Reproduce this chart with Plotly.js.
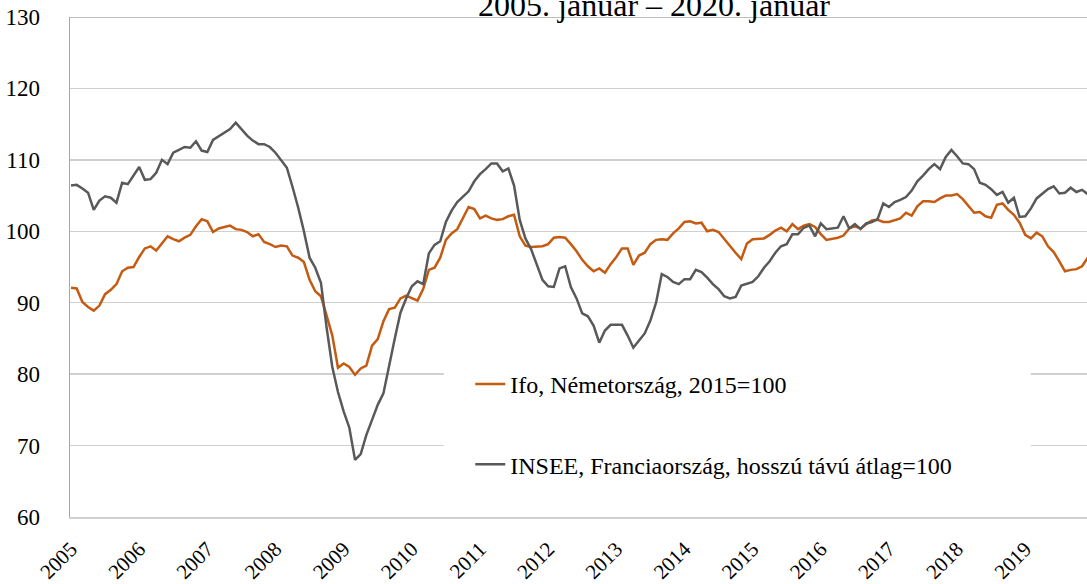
<!DOCTYPE html>
<html>
<head>
<meta charset="utf-8">
<script src="https://cdn.plot.ly/plotly-3.0.1.min.js"></script>
<style>
  html, body { margin: 0; padding: 0; background: #ffffff; }
  #chart { width: 1087px; height: 584px; }
</style>
</head>
<body>
<div id="chart"></div>
<script>
// Monthly values, 2005. január – 2020. január (181 months)
const ifoGermany = [
  92.1, 92.0, 90.1, 89.4, 88.9, 89.6, 91.2, 91.8, 92.6, 94.4, 94.9, 95.0,
  96.4, 97.6, 97.9, 97.3, 98.3, 99.3, 98.9, 98.6, 99.1, 99.5, 100.7, 101.7,
  101.4, 99.9, 100.4, 100.6, 100.8, 100.3, 100.2, 99.9, 99.3, 99.6, 98.5, 98.2,
  97.8, 98.0, 97.9, 96.6, 96.3, 95.7, 93.2, 91.6, 90.9, 88.2, 85.4, 80.9,
  81.5, 81.0, 79.9, 80.8, 81.2, 84.0, 84.9, 87.4, 89.1, 89.3, 90.6, 91.0,
  90.7, 90.3, 91.9, 94.6, 94.9, 96.3, 98.8, 99.7, 100.3, 101.9, 103.4, 103.1,
  101.8, 102.2, 101.8, 101.6, 101.7, 102.1, 102.3, 99.3, 98.0, 97.8, 97.9, 97.9,
  98.2, 99.1, 99.2, 99.1, 98.2, 97.2, 96.0, 95.1, 94.4, 94.8, 94.2, 95.4,
  96.4, 97.6, 97.6, 95.3, 96.6, 97.0, 98.2, 98.8, 98.9, 98.8, 99.7, 100.4,
  101.3, 101.4, 101.1, 101.2, 100.0, 100.2, 99.9, 98.9, 98.0, 97.0, 96.1, 98.3,
  98.9, 98.9, 99.0, 99.5, 100.1, 100.5, 100.0, 101.0, 100.3, 100.8, 101.0, 100.6,
  99.6, 98.8, 98.9, 99.1, 99.4, 100.4, 100.7, 100.4, 101.0, 101.5, 101.6, 101.3,
  101.3, 101.5, 101.8, 102.6, 102.2, 103.5, 104.2, 104.2, 104.1, 104.6, 105.0, 105.0,
  105.2, 104.5, 103.6, 102.6, 102.7, 102.1, 101.9, 103.7, 103.9, 103.0, 102.3, 101.2,
  99.5, 99.0, 99.8, 99.3, 97.9, 97.1, 95.8, 94.4, 94.6, 94.7, 95.1, 96.3,
  96.0
];
const inseeFrance = [
  106.4, 106.5, 106.0, 105.4, 103.0, 104.3, 104.9, 104.7, 104.0, 106.8, 106.6, 107.9,
  109.0, 107.2, 107.3, 108.2, 110.0, 109.4, 111.0, 111.4, 111.8, 111.7, 112.6, 111.3,
  111.1, 112.8, 113.3, 113.9, 114.3, 115.2, 114.3, 113.4, 112.7, 112.2, 112.2, 111.8,
  111.0, 110.0, 108.9, 106.2, 103.3, 100.0, 96.3, 94.9, 92.8, 86.5, 81.0, 77.5,
  74.8, 72.5, 68.0, 68.8, 71.5, 73.6, 75.7, 77.3, 81.3, 85.0, 88.6, 90.6,
  92.3, 93.0, 92.6, 96.9, 98.1, 98.6, 101.3, 102.9, 104.1, 104.9, 105.6, 107.0,
  108.0, 108.7, 109.5, 109.5, 108.4, 108.8, 106.4, 101.6, 99.0, 97.5, 95.3, 93.2,
  92.3, 92.2, 94.8, 95.1, 92.2, 90.6, 88.5, 88.1, 86.8, 84.4, 86.1, 86.9,
  86.9, 86.9, 85.4, 83.7, 84.7, 85.7, 87.5, 90.0, 94.0, 93.6, 92.9, 92.6,
  93.3, 93.3, 94.6, 94.3, 93.5, 92.6, 91.9, 90.9, 90.6, 90.8, 92.4, 92.6,
  92.9, 93.7, 94.9, 95.8, 97.0, 97.9, 98.2, 99.6, 99.6, 100.5, 100.8, 99.3,
  101.1, 100.3, 100.4, 100.5, 102.1, 100.4, 101.0, 100.3, 101.1, 101.3, 101.7, 103.9,
  103.4, 104.1, 104.4, 104.8, 105.7, 107.0, 107.8, 108.7, 109.4, 108.7, 110.4, 111.4,
  110.5, 109.5, 109.4, 108.7, 106.8, 106.5, 105.9, 105.1, 105.5, 104.0, 104.7, 102.0,
  102.1, 103.2, 104.6, 105.3, 105.9, 106.3, 105.3, 105.4, 106.1, 105.5, 105.8, 105.2,
  104.9
];
const yearLabels = ['2005','2006','2007','2008','2009','2010','2011','2012',
                    '2013','2014','2015','2016','2017','2018','2019'];
const seriesNames = ['Ifo, Németország, 2015=100',
                     'INSEE, Franciaország, hosszú távú átlag=100'];
const chartTitle = '2005. január – 2020. január';

const monthIndex = ifoGermany.map((_, i) => i);
const yearTickVals = yearLabels.map((_, i) => i * 12);

const FONT = 'Liberation Serif, Times New Roman, serif';

const traces = [
  {
    x: monthIndex, y: ifoGermany, type: 'scatter', mode: 'lines',
    name: seriesNames[0], legendgroup: 'a',
    line: { color: '#C55A11', width: 2.5 }
  },
  {
    x: monthIndex, y: inseeFrance, type: 'scatter', mode: 'lines',
    name: seriesNames[1], legendgroup: 'b',
    line: { color: '#595959', width: 2.5 }
  }
];

const layout = {
  width: 1087, height: 584,
  margin: { l: 70, r: 0, t: 17, b: 67, pad: 0 },
  paper_bgcolor: '#ffffff', plot_bgcolor: '#ffffff',
  font: { family: FONT, size: 23, color: '#000000' },
  title: {
    text: chartTitle,
    font: { family: FONT, size: 32, color: '#000000' },
    xref: 'container', x: 0.6017, xanchor: 'center',
    yref: 'container', y: 0.972, yanchor: 'bottom'
  },
  showlegend: true,
  legend: {
    x: 0.369, xanchor: 'left', y: 0.31, yanchor: 'top',
    bgcolor: '#ffffff', borderwidth: 0,
    font: { family: FONT, size: 24, color: '#000000' },
    traceorder: 'grouped', tracegroupgap: 46,
    indentation: 25, itemwidth: 30
  },
  xaxis: {
    range: [-0.18, 178.87],
    tickmode: 'array', tickvals: yearTickVals, ticktext: yearLabels,
    tickangle: -45, ticks: '', showgrid: false, zeroline: false,
    showline: true, linecolor: '#d0d0d0', linewidth: 1.5,
    ticklabelstandoff: 10,
    tickfont: { family: FONT, size: 21, color: '#000000' },
    fixedrange: true
  },
  yaxis: {
    range: [60, 130], dtick: 10, tick0: 60,
    showgrid: true, gridcolor: '#d0d0d0', gridwidth: 1.4,
    zeroline: false, showline: true, linecolor: '#a6a6a6', linewidth: 1.5,
    ticks: '', ticklabelstandoff: 24,
    tickfont: { family: FONT, size: 23, color: '#000000' },
    fixedrange: true
  },
  shapes: [
    { type: 'line', xref: 'paper', yref: 'y', x0: 0, x1: 1, y0: 130, y1: 130,
      line: { color: '#a6a6a6', width: 1.5 }, layer: 'below' },
    // white panel behind the legend, wider than the legend text as in the reference
    { type: 'rect', xref: 'x', yref: 'y',
      x0: 65.8, x1: 168.8, y0: 61.2, y1: 82.5,
      fillcolor: 'rgba(255,255,255,1)', line: { color: 'rgba(255,255,255,1)', width: 2 },
      layer: 'above' }
  ]
};

Plotly.newPlot('chart', traces, layout, { displayModeBar: false, staticPlot: true });
</script>
</body>
</html>
